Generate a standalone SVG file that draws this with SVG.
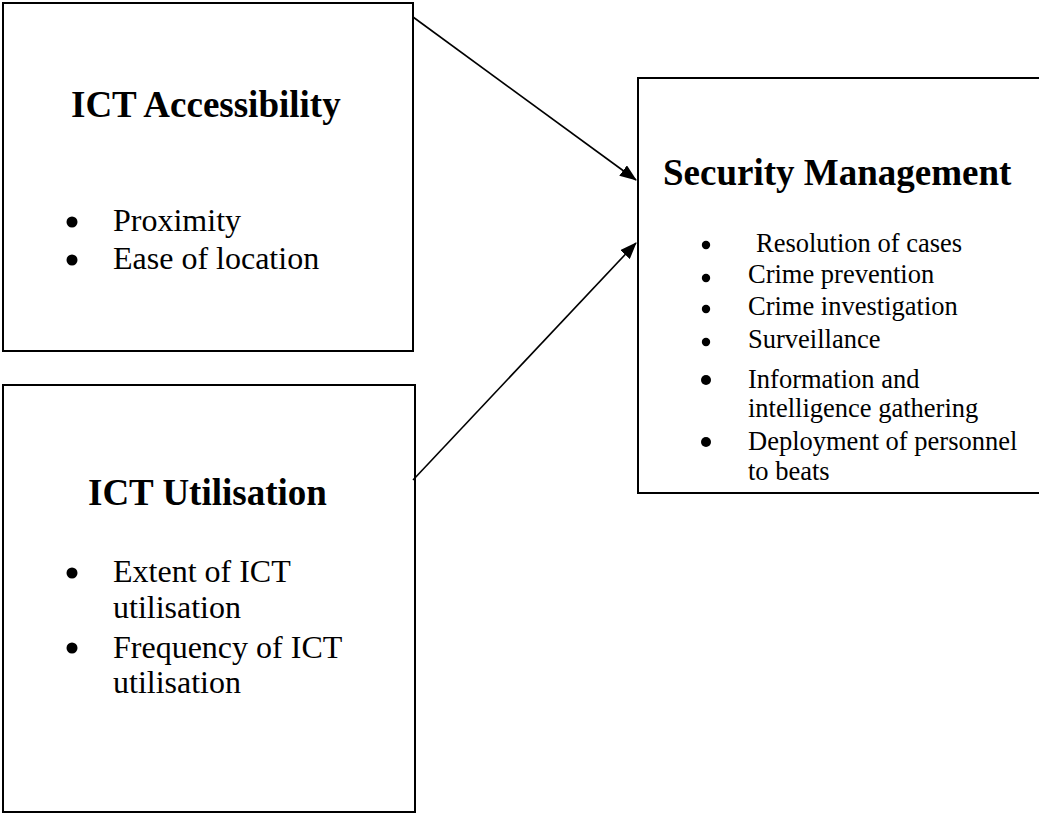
<svg xmlns="http://www.w3.org/2000/svg" width="1039" height="814" viewBox="0 0 1039 814">
<style>
.box{fill:#fff;stroke:#000;stroke-width:2}
.title{font-family:"Liberation Serif","Times New Roman",serif;font-weight:bold;font-size:37px;fill:#000}
.item{font-family:"Liberation Serif","Times New Roman",serif;font-size:32px;fill:#000}
.item2{font-family:"Liberation Serif","Times New Roman",serif;font-size:26.5px;fill:#000}
.conn{stroke:#000;stroke-width:1.6;fill:none}
</style>
<defs>
<marker id="arrow" viewBox="0 0 17 13" refX="16" refY="6.5" markerWidth="17" markerHeight="13" markerUnits="userSpaceOnUse" orient="auto">
<path d="M0,0 L17,6.5 L0,13 z" fill="#000"/>
</marker>
</defs>
<rect width="1039" height="814" fill="#fff"/>
<g id="node-access">
<rect class="box" x="3" y="3" width="410" height="348"/>
<text class="title" x="71" y="117">ICT Accessibility</text>
<circle cx="72" cy="222" r="5.5"/>
<text class="item" x="113" y="231">Proximity</text>
<circle cx="72" cy="260" r="5.5"/>
<text class="item" x="113" y="269">Ease of location</text>
</g>
<g id="node-util">
<rect class="box" x="3" y="385" width="412" height="427"/>
<text class="title" x="88" y="505">ICT Utilisation</text>
<circle cx="72" cy="573" r="5.5"/>
<text class="item" x="113" y="582">Extent of ICT</text>
<text class="item" x="113" y="618">utilisation</text>
<circle cx="72" cy="648" r="5.5"/>
<text class="item" x="113" y="658">Frequency of ICT</text>
<text class="item" x="113" y="693">utilisation</text>
</g>
<g id="node-security">
<rect class="box" x="638" y="78" width="402" height="415"/>
<text class="title" x="663" y="185">Security Management</text>
<circle cx="706" cy="245" r="4.2"/>
<text class="item2" x="756" y="252">Resolution of cases</text>
<circle cx="706" cy="278" r="4.2"/>
<text class="item2" x="748" y="283">Crime prevention</text>
<circle cx="706" cy="309" r="4.2"/>
<text class="item2" x="748" y="315">Crime investigation</text>
<circle cx="706" cy="342" r="4.2"/>
<text class="item2" x="748" y="348">Surveillance</text>
<circle cx="706" cy="380" r="5"/>
<text class="item2" x="748" y="388">Information and</text>
<text class="item2" x="748" y="417">intelligence gathering</text>
<circle cx="706" cy="442" r="5"/>
<text class="item2" x="748" y="450">Deployment of personnel</text>
<text class="item2" x="748" y="480">to beats</text>
</g>
<g id="connectors">
<line class="conn" x1="413" y1="17" x2="636" y2="180" marker-end="url(#arrow)"/>
<line class="conn" x1="413" y1="480" x2="636" y2="243" marker-end="url(#arrow)"/>
</g>
</svg>
